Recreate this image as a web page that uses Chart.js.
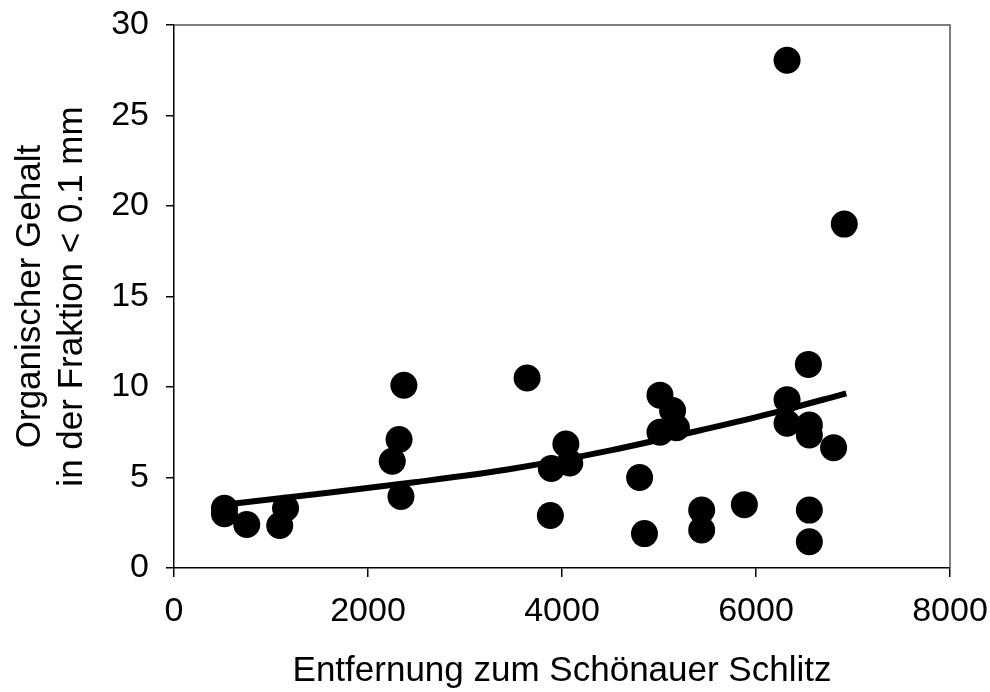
<!DOCTYPE html>
<html>
<head>
<meta charset="utf-8">
<script src="https://cdn.jsdelivr.net/npm/chart.js@4/dist/chart.umd.min.js"></script>
<style>
  html, body { margin: 0; padding: 0; background: #fff; }
  #wrap { width: 990px; height: 692px; }
</style>
</head>
<body>
<div id="wrap"><canvas id="chart" width="990" height="692"></canvas></div>
<script>
// Measured samples: distance vs. organic content.
const distances = [520, 520, 750, 1090, 1150, 2250, 2320, 2340, 2370, 3640, 3880, 3890,
  4040, 4080, 4800, 4850, 5010, 5010, 5140, 5180, 5440, 5440, 5880, 6320, 6320, 6320,
  6540, 6550, 6550, 6550, 6550, 6800, 6910];
const organic = [3.3, 3.0, 2.4, 2.35, 3.3, 5.9, 7.1, 3.95, 10.1, 10.5, 2.9, 5.5,
  6.85, 5.8, 5.0, 1.9, 9.55, 7.5, 8.7, 7.75, 3.2, 2.1, 3.5, 28.05, 9.3, 8.0,
  11.25, 7.9, 7.35, 3.2, 1.45, 6.65, 19.0];

// Fitted curve.
const fitDistances = [520, 1500, 2500, 3500, 4500, 5500, 6200, 6930];
const fitValues = [3.5, 4.1, 4.75, 5.5, 6.5, 7.7, 8.6, 9.65];

const xTitle = 'Entfernung zum Schönauer Schlitz';
const yTitle = ['Organischer Gehalt', 'in der Fraktion < 0.1 mm'];

const family = '"Liberation Sans", Arial, sans-serif';
const font = {family, size: 34};

const frame = {
  id: 'frame',
  afterDraw(chart) {
    const {ctx, chartArea: a} = chart;
    ctx.save();
    ctx.strokeStyle = '#555';
    ctx.lineWidth = 1.5;
    ctx.beginPath();
    ctx.moveTo(a.left, a.top);
    ctx.lineTo(a.right, a.top);
    ctx.lineTo(a.right, a.bottom);
    ctx.stroke();
    ctx.restore();
  },
};

const pts = distances.map((x, i) => ({x, y: organic[i]}));
const fit = fitDistances.map((x, i) => ({x, y: fitValues[i]}));

new Chart(document.getElementById('chart'), {
  type: 'scatter',
  data: {
    datasets: [
      {
        data: pts,
        backgroundColor: '#000',
        borderColor: '#000',
        pointRadius: 13.5,
        pointHoverRadius: 13.5,
        borderWidth: 0,
      },
      {
        type: 'line',
        data: fit,
        borderColor: '#000',
        borderWidth: 6,
        pointRadius: 0,
        fill: false,
        tension: 0.4,
        cubicInterpolationMode: 'monotone',
      },
    ],
  },
  options: {
    responsive: false,
    animation: false,
    plugins: {legend: {display: false}, tooltip: {enabled: false}},
    layout: {padding: {top: 25, right: 40, left: 10, bottom: 0}},
    scales: {
      x: {
        type: 'linear',
        min: 0,
        max: 8000,
        afterFit(s) {
          s.height = 124;
          s.paddingLeft = 0;
          s.paddingRight = 0;
        },
        ticks: {stepSize: 2000, color: '#000', font, padding: 14, maxRotation: 0,
          callback: (v) => String(v)},
        grid: {display: true, drawOnChartArea: false, drawTicks: true, tickLength: 9, color: '#000', lineWidth: 1.5},
        border: {display: true, color: '#000', width: 1.5},
        title: {display: true, text: xTitle, color: '#000', font: {family, size: 35}, padding: {top: 18, bottom: 0}},
      },
      y: {
        min: 0,
        max: 30,
        afterFit(s) {
          s.width = 164;
          s.paddingTop = 0;
          s.paddingBottom = 0;
        },
        ticks: {stepSize: 5, color: '#000', font, padding: 17, callback: (v) => String(v)},
        grid: {display: true, drawOnChartArea: false, drawTicks: true, tickLength: 8, color: '#000', lineWidth: 1.5},
        border: {display: true, color: '#000', width: 1.5},
        title: {display: true, text: yTitle, color: '#000', font: {family, size: 35, lineHeight: 1.18}, padding: {top: 0, bottom: 0}},
      },
    },
  },
  plugins: [frame],
});
</script>
</body>
</html>
